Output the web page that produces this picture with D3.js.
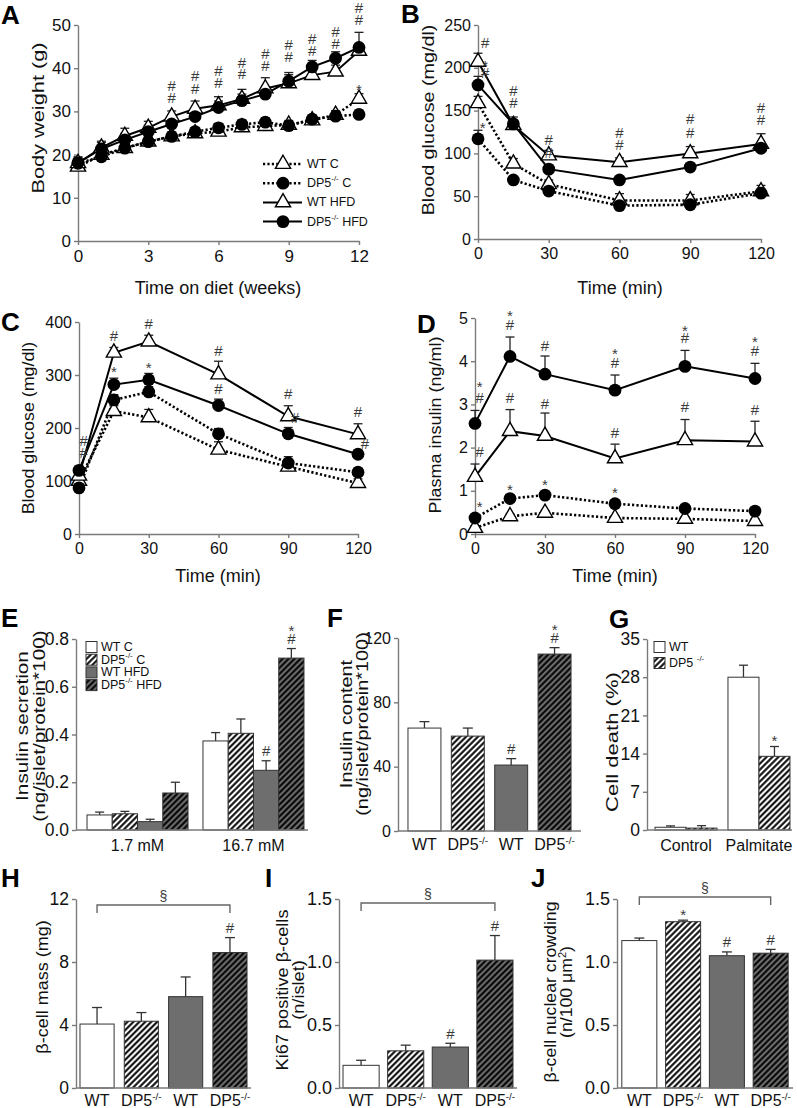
<!DOCTYPE html>
<html><head><meta charset="utf-8">
<script src="https://cdn.jsdelivr.net/npm/d3@7"></script>
<style>
body{margin:0;background:#fff;}
svg{display:block;font-family:"Liberation Sans",Arial,Helvetica,sans-serif;}
</style></head><body>
<svg id="fig" width="797" height="1108"></svg>
<script>
// ---------- DATA ----------
// Panel A: body weight (g) vs weeks on diet
const weeks = [0,1,2,3,4,5,6,7,8,9,10,11,12];
const aWtC     = [17.2,19.9,21.5,23,24.2,24.9,25.3,26.3,26.6,26.9,27.9,29.2,32.9];
const aDp5C    = [18,19.5,21.5,23,24.2,25.3,26.2,27,27.5,26.7,28.2,28.9,29.3];
const aWtHfd   = [18,21.6,24.3,26.2,28.8,30.6,31.4,32.9,35.3,36.5,38.4,39.2,44];
const aDp5Hfd  = [18.1,21.3,23.4,25.3,27.1,28.8,30.9,32.5,34,37,40.3,42.3,44.8];
const aWtCErr    = [1.2,1,1,1,1,1,1,1,1,1,1,1,1.2];
const aDp5CErr   = [1,1,1,1,1,1,1,1,1,1,1,1,1];
const aWtHfdErr  = [1.5,1.5,1.8,1.5,1.3,1.8,2,2.2,2.5,2.5,1.5,1.5,1.5];
const aDp5HfdErr = [1.2,1.5,1.5,1.5,1.5,1.5,1.5,1.5,1.5,1.5,1.5,1.5,3.5];
const aAnn = [[4,36.1,'#'],[4,33.3,'#'],[5,38.2,'#'],[5,35.4,'#'],[6,39.4,'#'],[6,36.6,'#'],[7,41.4,'#'],[7,38.7,'#'],[8,43.5,'#'],[8,40.7,'#'],[9,45.6,'#'],[9,42.6,'#'],[10,46.8,'#'],[10,44.0,'#'],[11,48.6,'#'],[11,45.8,'#'],[12,54.0,'#'],[12,51.2,'#'],[12,36.1,'*']];
const aXTicks = [0,3,6,9,12];
const aYTicks = [0,10,20,30,40,50];
const legendLabels = ['WT C','DP5^{-/-} C','WT HFD','DP5^{-/-} HFD'];

// Panel B: ITT blood glucose
const minutes = [0,15,30,60,90,120];
const bWtC    = [158.6,88,64,45,45,55.6];
const bDp5C   = [117,69,56,39,40,53.6];
const bWtHfd  = [207,133,97.6,89.8,100,111];
const bDp5Hfd = [180,134.5,81.6,69,84,106];
const bWtCErr = [8,6,5,8,7,7];
const bDp5CErr = [10,4,4,4,4,4];
const bWtHfdErr = [10,5,6,5,8,12];
const bDp5HfdErr = [10,8,5,3,4,4];
const bAnn = [[3,230,'#'],[3,207,'*'],[3,195,'#'],[2,135.5,'*'],[15,174,'#'],[15,160,'#'],[30,115.7,'#'],[30,100.5,'#'],[60,124,'#'],[60,110,'#'],[90,141,'#'],[90,125,'#'],[120,154,'#'],[120,140,'#']];
const bYTicks = [0,50,100,150,200,250];
const timeTicks = [0,30,60,90,120];

// Panel C: GTT blood glucose
const cWtC    = [100,232,220,159,127,96];
const cDp5C   = [87,253,268,189,134,116.5];
const cWtHfd  = [110,342,363,301,222,188];
const cDp5Hfd = [120,282,291,242.5,189,150.5];
const cWtCErr = [8,10,15,15,12,8];
const cDp5CErr = [8,10,10,10,12,8];
const cWtHfdErr = [8,10,12,25,20,20];
const cDp5HfdErr = [8,12,12,12,12,8];
const cAnn = [[2,177,'#'],[2,153,'#'],[15,375,'#'],[15,315,'*'],[30,398,'#'],[30,322,'*'],[60,347,'#'],[60,275,'#'],[90,266,'#'],[93,219,'#'],[120,232,'#'],[123,170,'#']];
const cYTicks = [0,100,200,300,400];

// Panel D: plasma insulin
const dWtC    = [0.14,0.41,0.49,0.37,0.35,0.3];
const dDp5C   = [0.37,0.82,0.9,0.7,0.59,0.53];
const dWtHfd  = [1.32,2.38,2.27,1.75,2.17,2.14];
const dDp5Hfd = [2.56,4.11,3.7,3.33,3.88,3.6];
const dWtCErr = [0.05,0.05,0.05,0.05,0.05,0.05];
const dDp5CErr = [0.05,0.08,0.06,0.06,0.05,0.05];
const dWtHfdErr = [0.3,0.5,0.53,0.33,0.48,0.47];
const dDp5HfdErr = [0.3,0.45,0.42,0.35,0.37,0.35];
const dAnn = [[2,3.5,'*'],[2,3.17,'#'],[2,1.92,'#'],[2,0.74,'*'],[15,5.16,'*'],[15,4.86,'#'],[15,3.17,'#'],[15,1.13,'*'],[30,4.375,'#'],[30,3.03,'#'],[30,1.23,'*'],[60,4.26,'*'],[60,3.96,'#'],[60,2.34,'#'],[60,1.06,'*'],[90,4.81,'*'],[90,4.54,'#'],[90,2.94,'#'],[120,4.54,'*'],[120,4.24,'#'],[120,2.89,'#']];
const dYTicks = [0,1,2,3,4,5];

// Panel E: insulin secretion
const eGroups = ['1.7 mM','16.7 mM'];
const eLow  = [0.063,0.068,0.035,0.155];
const eLowErr = [0.012,0.01,0.01,0.045];
const eLowAnn = ['','','',''];
const eHigh = [0.373,0.405,0.25,0.72];
const eHighErr = [0.035,0.06,0.04,0.04];
const eHighAnn = ['','','#','*#'];
const eYTicks = [0,0.2,0.4,0.6,0.8];

// Panel F: insulin content
const genoLabels = ['WT','DP5^{-/-}','WT','DP5^{-/-}'];
const fVals = [64,59,41,110];
const fErr = [4,5,4,4];
const fAnn = ['','','#','*#'];
const fYTicks = [0,40,80,120];

// Panel G: cell death
const gGroups = ['Control','Palmitate'];
const gWt = [0.5,28];
const gWtErr = [0.25,2.2];
const gDp5 = [0.35,13.5];
const gDp5Err = [0.45,1.8];
const gDp5Ann = ['','*'];
const gYTicks = [0,7,14,21,28,35];
const gLegend = ['WT','DP5 ^{-/-}'];

// Panel H: beta-cell mass
const hVals = [4.06,4.24,5.8,8.6];
const hErr = [1.05,0.55,1.25,0.95];
const hAnn = ['','','','#'];
const hYTicks = [0,4,8,12];

// Panel I: Ki67
const iVals = [0.18,0.295,0.325,1.015];
const iErr = [0.04,0.045,0.03,0.195];
const iAnn = ['','','#','#'];
const ijYTicks = [0,0.5,1.0,1.5];

// Panel J: nuclear crowding
const jVals = [1.17,1.32,1.05,1.07];
const jErr = [0.02,0.012,0.03,0.03];
const jAnn = ['','*','#','#'];

// ---------- DRAWING ----------
const svg = d3.select('#fig');
const AX = '#7a7a7a', TXT = '#111', ANN = '#3a3a3a';
const GRAY = '#6e6e6e';

const defs = svg.append('defs');
function hatch(id, bg) {
  const p = defs.append('pattern').attr('id', id).attr('patternUnits','userSpaceOnUse')
    .attr('width', 4.2).attr('height', 4.2).attr('patternTransform','rotate(45)');
  p.append('rect').attr('width',4.2).attr('height',4.2).attr('fill',bg);
  p.append('line').attr('x1',2.1).attr('y1',0).attr('x2',2.1).attr('y2',4.2).attr('stroke','#000').attr('stroke-width',2);
}
hatch('hatchW','#fff');
hatch('hatchG',GRAY);
const barFills = ['#fff','url(#hatchW)',GRAY,'url(#hatchG)'];

function rich(t, str, fs) {
  const parts = str.split(/(\^\{[^}]*\})/).filter(s => s.length);
  let shifted = false;
  parts.forEach(p => {
    if (p.startsWith('^{')) {
      t.append('tspan').text(p.slice(2,-1)).attr('font-size', fs*0.62).attr('dy', -fs*0.38);
      shifted = true;
    } else {
      const s = t.append('tspan').text(p);
      if (shifted) { s.attr('dy', fs*0.38); shifted = false; }
    }
  });
  return t;
}

function styleAxis(a, fs) {
  a.select('.domain').attr('stroke', AX).attr('stroke-width', 1.4);
  a.selectAll('.tick line').attr('stroke', AX).attr('stroke-width', 1.4);
  a.selectAll('.tick text').attr('fill', TXT).attr('font-size', fs || 16);
  a.attr('font-family', null);
}

function panelLetter(x, y, L) {
  svg.append('text').attr('x', x).attr('y', y).attr('font-size', 26).attr('font-weight','bold').attr('fill','#000').text(L);
}

// rotated axis label; sx stretches the text along its length (the source figure is stretched vertically)
function yLabel(x, y, lines, sx, gap) {
  const fs = 17;
  const g = svg.append('g').attr('transform', `translate(${x},${y}) rotate(-90) scale(${sx},1)`);
  lines.forEach((ln, i) => {
    const t = g.append('text').attr('x', 0).attr('y', i * (gap || 16)).attr('text-anchor','middle')
      .attr('font-size', fs).attr('fill', TXT);
    rich(t, ln, fs);
  });
}

function annText(g, x, y, s) {
  g.append('text').attr('x', x).attr('y', y + (s === '*' ? 4 : 0)).attr('text-anchor','middle')
    .attr('dominant-baseline','central').attr('font-size', 15).attr('fill', ANN).text(s);
}

function triangle(g, cx, cy) {
  g.append('path').attr('d', d3.symbol(d3.symbolTriangle, 100)()).attr('transform', `translate(${cx},${cy})`)
    .attr('fill','#fff').attr('stroke','#000').attr('stroke-width',1.4);
}
function circle(g, cx, cy) {
  g.append('circle').attr('cx', cx).attr('cy', cy).attr('r', 6.4).attr('fill','#000');
}

function linePanel(o) {
  const x = d3.scaleLinear().domain(o.xDomain).range(o.xRange);
  const y = d3.scaleLinear().domain(o.yDomain).range(o.yRange);
  const g = svg.append('g');
  const ya = g.append('g').attr('transform', `translate(${o.xRange[0]},0)`)
    .call(d3.axisLeft(y).tickValues(o.yTicks).tickSize(4).tickSizeOuter(0).tickPadding(3).tickFormat(d3.format('d')));
  const xa = g.append('g').attr('transform', `translate(0,${o.yRange[0]})`)
    .call(d3.axisBottom(x).tickValues(o.xTicks).tickSize(4).tickSizeOuter(0).tickPadding(5).tickFormat(d3.format('d')));
  styleAxis(ya, o.tfs); styleAxis(xa, o.tfs);
  const line = d3.line().x((d,i) => x(o.xs[i])).y(d => y(d));
  o.series.forEach(s => {
    g.append('path').datum(s.vals).attr('d', line).attr('fill','none').attr('stroke','#000')
      .attr('stroke-width', s.dotted ? 2.6 : 2).attr('stroke-dasharray', s.dotted ? '2.2,2.2' : null);
  });
  o.series.forEach(s => {
    s.vals.forEach((v, i) => {
      const cx = x(o.xs[i]), y0 = y(v), y1 = y(v + s.err[i]);
      g.append('line').attr('x1',cx).attr('x2',cx).attr('y1',y0).attr('y2',y1).attr('stroke','#222').attr('stroke-width',1.3);
      g.append('line').attr('x1',cx-4.5).attr('x2',cx+4.5).attr('y1',y1).attr('y2',y1).attr('stroke','#222').attr('stroke-width',1.3);
    });
  });
  o.series.forEach(s => {
    s.vals.forEach((v, i) => (s.tri ? triangle : circle)(g, x(o.xs[i]), y(v)));
  });
  o.ann.forEach(a => annText(g, x(a[0]), y(a[1]), a[2]));
  yLabel(o.yl[0], o.yl[1], [o.yl[2]], o.ysx);
  g.append('text').attr('x', o.xl[0]).attr('y', o.xl[1]).attr('text-anchor','middle').attr('font-size',18).attr('fill',TXT).text(o.xl[2]);
  return {x, y, g};
}

// A
const A = linePanel({
  xDomain:[0,12], xRange:[78,359], yDomain:[0,50], yRange:[241,25],
  xTicks:aXTicks, yTicks:aYTicks, xs:weeks, tfs:17, ysx:1.28,
  series:[
    {vals:aWtC, err:aWtCErr, dotted:true, tri:true},
    {vals:aDp5C, err:aDp5CErr, dotted:true, tri:false},
    {vals:aWtHfd, err:aWtHfdErr, dotted:false, tri:true},
    {vals:aDp5Hfd, err:aDp5HfdErr, dotted:false, tri:false}],
  ann:aAnn, yl:[44,118,'Body weight (g)'], xl:[218,294,'Time on diet (weeks)']
});
// Legend A
legendLabels.forEach((lab, i) => {
  const yy = 164 + i * 19.2;
  const dotted = i < 2, tri = i % 2 === 0;
  A.g.append('line').attr('x1',263).attr('x2',302).attr('y1',yy).attr('y2',yy).attr('stroke','#000')
    .attr('stroke-width', dotted ? 2.6 : 2).attr('stroke-dasharray', dotted ? '2.2,2.2' : null);
  (tri ? triangle : circle)(A.g, 283, yy);
  const t = A.g.append('text').attr('x',307).attr('y',yy).attr('dominant-baseline','central').attr('font-size',12.5).attr('fill',TXT);
  rich(t, lab, 12.5);
});
panelLetter(1, 24, 'A');

// B
linePanel({
  xDomain:[0,120], xRange:[478,761], yDomain:[0,250], yRange:[239,25],
  xTicks:timeTicks, yTicks:bYTicks, xs:minutes, tfs:16, ysx:1.16,
  series:[
    {vals:bWtC, err:bWtCErr, dotted:true, tri:true},
    {vals:bDp5C, err:bDp5CErr, dotted:true, tri:false},
    {vals:bWtHfd, err:bWtHfdErr, dotted:false, tri:true},
    {vals:bDp5Hfd, err:bDp5HfdErr, dotted:false, tri:false}],
  ann:bAnn, yl:[434,120,'Blood glucose (mg/dl)'], xl:[620,294,'Time (min)']
});
panelLetter(401, 23, 'B');

// C
linePanel({
  xDomain:[0,120], xRange:[79,358], yDomain:[0,400], yRange:[534,322],
  xTicks:timeTicks, yTicks:cYTicks, xs:minutes, tfs:16, ysx:1.05,
  series:[
    {vals:cWtC, err:cWtCErr, dotted:true, tri:true},
    {vals:cDp5C, err:cDp5CErr, dotted:true, tri:false},
    {vals:cWtHfd, err:cWtHfdErr, dotted:false, tri:true},
    {vals:cDp5Hfd, err:cDp5HfdErr, dotted:false, tri:false}],
  ann:cAnn, yl:[34,428,'Blood glucose (mg/dl)'], xl:[218,582,'Time (min)']
});
panelLetter(1, 331, 'C');

// D
linePanel({
  xDomain:[0,120], xRange:[475,755], yDomain:[0,5], yRange:[534,318],
  xTicks:timeTicks, yTicks:dYTicks, xs:minutes, tfs:16, ysx:1.06,
  series:[
    {vals:dWtC, err:dWtCErr, dotted:true, tri:true},
    {vals:dDp5C, err:dDp5CErr, dotted:true, tri:false},
    {vals:dWtHfd, err:dWtHfdErr, dotted:false, tri:true},
    {vals:dDp5Hfd, err:dDp5HfdErr, dotted:false, tri:false}],
  ann:dAnn, yl:[441,425,'Plasma insulin (ng/ml)'], xl:[615,582,'Time (min)']
});
panelLetter(417, 333, 'D');

// ---------- BAR PANELS ----------
function barAxisY(g, y, x0, ticks, fmt, fs) {
  const a = g.append('g').attr('transform', `translate(${x0},0)`)
    .call(d3.axisLeft(y).tickValues(ticks).tickSize(4).tickSizeOuter(0).tickPadding(3).tickFormat(fmt));
  styleAxis(a, fs);
}
function drawBar(g, x0, w, y, v, e, fill, ann, capW) {
  const base = y.range()[0];
  g.append('line').attr('x1',x0+w/2).attr('x2',x0+w/2).attr('y1',y(v)).attr('y2',y(v+e)).attr('stroke','#333').attr('stroke-width',1.3);
  g.append('line').attr('x1',x0+w/2-capW/2).attr('x2',x0+w/2+capW/2).attr('y1',y(v+e)).attr('y2',y(v+e)).attr('stroke','#333').attr('stroke-width',1.3);
  g.append('rect').attr('x',x0).attr('y',y(v)).attr('width',w).attr('height',base - y(v))
    .attr('fill',fill).attr('stroke','#333').attr('stroke-width',1);
  if (ann) {
    const chars = ann.split('').reverse();
    chars.forEach((c, k) => annText(g, x0 + w/2, y(v+e) - 10 - k*12, c));
  }
}
function xAxisLine(g, x1, x2, y0) {
  g.append('line').attr('x1',x1).attr('x2',x2).attr('y1',y0).attr('y2',y0).attr('stroke',AX).attr('stroke-width',1.4);
}
function xLabel(g, x, y, str, fs) {
  const t = g.append('text').attr('x',x).attr('y',y).attr('text-anchor','middle').attr('font-size',fs).attr('fill',TXT);
  rich(t, str, fs);
}

function simpleBarPanel(o) {
  const g = svg.append('g');
  const y = d3.scaleLinear().domain(o.yDomain).range(o.yRange);
  const x = d3.scaleBand().domain(d3.range(o.vals.length)).range([o.axisX, o.axisEnd]).paddingInner(o.pi).paddingOuter(o.po);
  o.vals.forEach((v, i) => drawBar(g, x(i), x.bandwidth(), y, v, o.err[i], barFills[i], o.ann[i], 10));
  xAxisLine(g, o.axisX, o.axisEnd, o.yRange[0]);
  barAxisY(g, y, o.axisX, o.yTicks, o.fmt, o.tfs);
  o.labels.forEach((l, i) => xLabel(g, x(i) + x.bandwidth()/2, o.yRange[0] + o.lblDy, l, 16));
  if (o.bracket) {
    const bx1 = x(0) + x.bandwidth()/2, bx2 = x(3) + x.bandwidth()/2, by = o.bracket;
    g.append('path').attr('d', `M${bx1},${by+8}V${by}H${bx2}V${by+8}`).attr('fill','none').attr('stroke','#666').attr('stroke-width',1.4);
    g.append('text').attr('x',(bx1+bx2)/2).attr('y',by-9).attr('text-anchor','middle').attr('dominant-baseline','central')
      .attr('font-size',14).attr('fill',ANN).text('§');
  }
  yLabel(o.yl[0], o.yl[1], o.yl[2], o.ysx, o.gap);
  return g;
}

// E (grouped)
(function(){
  const g = svg.append('g');
  const y = d3.scaleLinear().domain([0,0.8]).range([830,639]);
  const xg = d3.scaleBand().domain(eGroups).range([76,315]).paddingInner(0.129).paddingOuter(0.095);
  const xs = d3.scaleBand().domain(d3.range(4)).range([0, xg.bandwidth()]).padding(0);
  const sets = [[eLow,eLowErr,eLowAnn],[eHigh,eHighErr,eHighAnn]];
  eGroups.forEach((gr, gi) => {
    const [vals, errs, anns] = sets[gi];
    vals.forEach((v, i) => drawBar(g, xg(gr) + xs(i), xs.bandwidth(), y, v, errs[i], barFills[i], anns[i], 9));
    xLabel(g, xg(gr) + xg.bandwidth()/2, 851, gr, 16);
  });
  xAxisLine(g, 76, 308, 830);
  barAxisY(g, y, 76, eYTicks, d3.format('.1f'), 17.5);
  legendLabels.forEach((lab, i) => {
    const yy = 647 + i * 12.7;
    g.append('rect').attr('x',86).attr('y',yy-5.5).attr('width',11).attr('height',11).attr('fill',barFills[i]).attr('stroke','#333').attr('stroke-width',1);
    const t = g.append('text').attr('x',101).attr('y',yy).attr('dominant-baseline','central').attr('font-size',12.5).attr('fill',TXT);
    rich(t, lab, 12.5);
  });
  yLabel(28, 726, ['Insulin secretion','(ng/islet/protein*100)'], 1.22, 17.5);
})();
panelLetter(1, 627, 'E');

// F
simpleBarPanel({vals:fVals, err:fErr, ann:fAnn, yDomain:[0,120], yRange:[831,638], axisX:398, axisEnd:581, pi:0.24, po:0.23,
  yTicks:fYTicks, fmt:d3.format('d'), tfs:16, ysx:1.17, gap:16.5, lblDy:19, labels:genoLabels, yl:[352,724,['Insulin content','(ng/islet/protein*100)']]});
panelLetter(327, 627, 'F');

// G
(function(){
  const g = svg.append('g');
  const y = d3.scaleLinear().domain([0,35]).range([830,639]);
  const xg = d3.scaleBand().domain(gGroups).range([647,798]).paddingInner(0.15).paddingOuter(0.11);
  const xs = d3.scaleBand().domain([0,1]).range([0, xg.bandwidth()]).padding(0);
  gGroups.forEach((gr, gi) => {
    drawBar(g, xg(gr) + xs(0), xs.bandwidth(), y, gWt[gi], gWtErr[gi], barFills[0], '', 9);
    drawBar(g, xg(gr) + xs(1), xs.bandwidth(), y, gDp5[gi], gDp5Err[gi], barFills[1], gDp5Ann[gi], 9);
    xLabel(g, xg(gr) + xg.bandwidth()/2, 851, gr, 16);
  });
  xAxisLine(g, 647, 792, 830);
  barAxisY(g, y, 647, gYTicks, d3.format('d'), 17.5);
  gLegend.forEach((lab, i) => {
    const yy = 647 + i * 16;
    g.append('rect').attr('x',654).attr('y',yy-5.5).attr('width',11).attr('height',11).attr('fill',barFills[i]).attr('stroke','#333').attr('stroke-width',1);
    const t = g.append('text').attr('x',669).attr('y',yy).attr('dominant-baseline','central').attr('font-size',12.5).attr('fill',TXT);
    rich(t, lab, 12.5);
  });
  yLabel(618, 742, ['Cell death (%)'], 1.3);
})();
panelLetter(609, 628, 'G');

// H
simpleBarPanel({vals:hVals, err:hErr, ann:hAnn, yDomain:[0,12], yRange:[1088,899], axisX:76, axisEnd:251, pi:0.23, po:0.09,
  yTicks:hYTicks, fmt:d3.format('d'), tfs:17.5, ysx:1.06, lblDy:18, labels:genoLabels, bracket:905, yl:[48,987,['β-cell mass (mg)']]});
panelLetter(1, 887, 'H');

// I
simpleBarPanel({vals:iVals, err:iErr, ann:iAnn, yDomain:[0,1.5], yRange:[1088,899], axisX:339, axisEnd:517, pi:0.19, po:0.09,
  yTicks:ijYTicks, fmt:d3.format('.1f'), tfs:18, ysx:1.07, gap:16, lblDy:18, labels:genoLabels, bracket:903, yl:[288,990,['Ki67 positive β-cells','(n/islet)']]});
panelLetter(265, 887, 'I');

// J
simpleBarPanel({vals:jVals, err:jErr, ann:jAnn, yDomain:[0,1.5], yRange:[1088,899], axisX:617, axisEnd:793, pi:0.2, po:0.11,
  yTicks:ijYTicks, fmt:d3.format('.1f'), tfs:18, ysx:1.04, gap:16.5, lblDy:18, labels:genoLabels, bracket:897, yl:[556,992,['β-cell nuclear crowding','(n/100 μm^{2})']]});
panelLetter(531, 887, 'J');
</script></body></html>
